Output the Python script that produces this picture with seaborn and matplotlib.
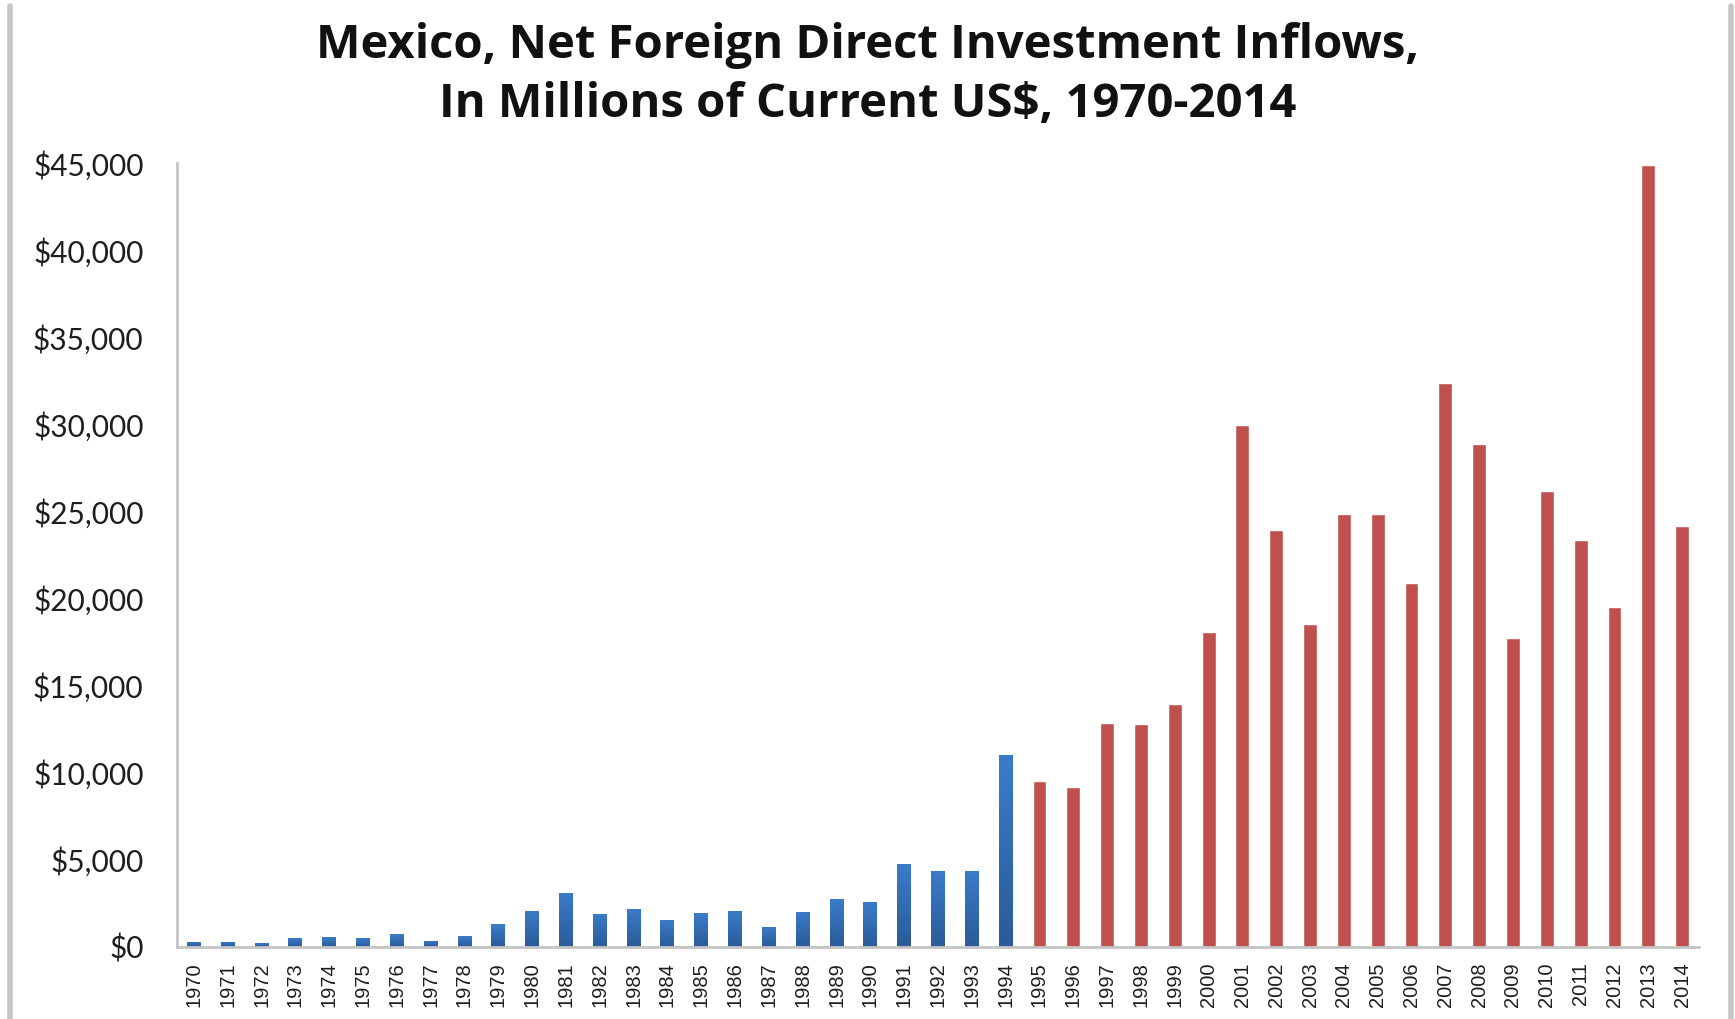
import numpy as np
import pandas as pd
import matplotlib
matplotlib.use("Agg")
import matplotlib.pyplot as plt
from matplotlib.lines import Line2D
from matplotlib.colors import LinearSegmentedColormap
from matplotlib.ticker import FuncFormatter, MultipleLocator
import seaborn as sns

# Net FDI inflows, millions of current US$
years = list(range(1970, 2015))
inflows = [
    310, 300, 210, 500, 555, 500, 730, 345, 630, 1300,      # 1970-1979
    2070, 3100, 1900, 2180, 1530, 1950, 2040, 1150, 2010, 2780,  # 1980-1989
    2565, 4750, 4390, 4390, 11000, 9530, 9200, 12850, 12800, 13950,  # 1990-1999
    18100, 29950, 23950, 18550, 24850, 24850, 20900, 32360, 28850, 17750,  # 2000-2009
    26200, 23350, 19500, 44900, 24150,                     # 2010-2014
]
period = ["through 1994" if y <= 1994 else "from 1995" for y in years]

df = pd.DataFrame({"year": [str(y) for y in years], "inflow": inflows, "period": period})

sns.set_theme(style="white")
plt.rcParams["font.family"] = ["Lato", "DejaVu Sans"]

fig = plt.figure(figsize=(17.35, 10.19), dpi=100)
ax = fig.add_axes([177 / 1735, 1 - 947 / 1019, (1699 - 177) / 1735, (947 - 163) / 1019])

blue = "#3670b8"
red = "#c0504d"
sns.barplot(data=df, x="year", y="inflow", hue="period",
            palette={"through 1994": blue, "from 1995": red},
            dodge=False, width=0.41, legend=False, ax=ax, saturation=1)

# vertical gradient on the early-period bars
grad = LinearSegmentedColormap.from_list("bluegrad", ["#2a5b98", "#3b7cca"])
gimg = np.linspace(0, 1, 256).reshape(-1, 1)
for patch in ax.patches:
    fc = matplotlib.colors.to_hex(patch.get_facecolor())
    if fc.lower() == blue.lower():
        x0, y0 = patch.get_x(), patch.get_y()
        w, h = patch.get_width(), patch.get_height()
        im = ax.imshow(gimg, cmap=grad, aspect="auto", origin="lower",
                       extent=[x0, x0 + w, y0, y0 + h], zorder=patch.get_zorder() + 0.1)
        im.set_clip_path(patch)

ax.set_xlim(-0.5, len(years) - 0.5)
ax.set_ylim(0, 45000)
ax.yaxis.set_major_locator(MultipleLocator(5000))
ax.yaxis.set_major_formatter(FuncFormatter(lambda v, p: f"${v:,.0f}"))
ax.set_xlabel("")
ax.set_ylabel("")

ax.tick_params(axis="y", length=0, pad=24, labelsize=21.5, labelcolor="#1e1e1e")
ax.tick_params(axis="x", length=0, pad=11, labelsize=14.5, labelcolor="#1e1e1e")
for lbl in ax.get_xticklabels():
    lbl.set_rotation(90)
    lbl.set_fontfamily(["Liberation Sans", "DejaVu Sans"])

for side in ["top", "right"]:
    ax.spines[side].set_visible(False)
for side in ["left", "bottom"]:
    ax.spines[side].set_color("#c4c4c4")
    ax.spines[side].set_linewidth(2)

fig.suptitle("Mexico, Net Foreign Direct Investment Inflows,\nIn Millions of Current US$, 1970-2014",
             x=0.5, y=1 - 22 / 1019, fontsize=34, fontweight="bold", color="#111111",
             family=["Open Sans", "DejaVu Sans"], linespacing=1.33, va="top")

# chart-area frame edges on the left and right
for xf in (10 / 1735, 1731 / 1735):
    fig.add_artist(Line2D([xf, xf], [0, 1 - 6 / 1019], transform=fig.transFigure,
                          color="#c6c6c6", linewidth=4))

fig.savefig("out.png", dpi=100, facecolor="white")
